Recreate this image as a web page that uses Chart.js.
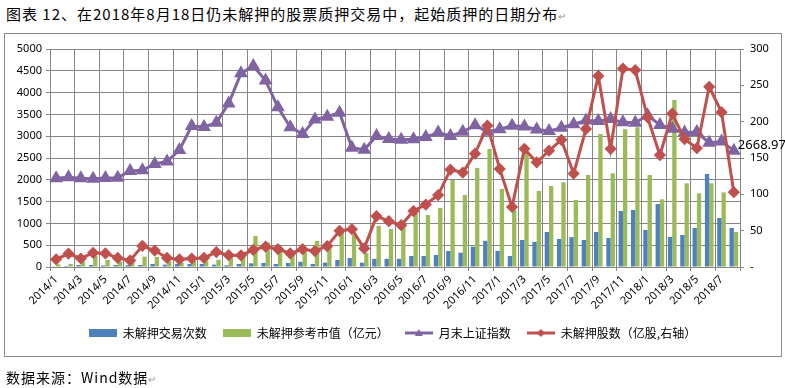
<!DOCTYPE html>
<html>
<head>
<meta charset="utf-8">
<script src="https://cdn.jsdelivr.net/npm/chart.js@4.4.1/dist/chart.umd.min.js"></script>
<style>
  html, body { margin: 0; padding: 0; background: #fff; }
  body { width: 785px; height: 388px; position: relative; overflow: hidden; font-family: "Noto Sans CJK SC", sans-serif; }
  #title { position: absolute; left: 6px; top: 3px; font-size: 15px; letter-spacing: 1px; color: #000; white-space: nowrap; }
  #box { position: absolute; left: 4px; top: 33px; width: 776px; height: 322px; border: 1px solid #8c8c8c; }
  #src { position: absolute; left: 6px; top: 367px; font-size: 14px; letter-spacing: 1px; color: #000; white-space: nowrap; }
  .mark { color: #999; font-size: 10px; }
  #chart { position: absolute; left: 0; top: 0; width: 785px; height: 388px; }
</style>
</head>
<body>
<div id="title">图表 12、在2018年8月18日仍未解押的股票质押交易中，起始质押的日期分布<span class="mark">↵</span></div>
<div id="box"></div>
<canvas id="chart" width="785" height="388"></canvas>
<div id="src">数据来源：Wind数据<span class="mark">↵</span></div>
<script>
const months = [
  "2014/1","2014/2","2014/3","2014/4","2014/5","2014/6","2014/7","2014/8","2014/9","2014/10","2014/11","2014/12",
  "2015/1","2015/2","2015/3","2015/4","2015/5","2015/6","2015/7","2015/8","2015/9","2015/10","2015/11","2015/12",
  "2016/1","2016/2","2016/3","2016/4","2016/5","2016/6","2016/7","2016/8","2016/9","2016/10","2016/11","2016/12",
  "2017/1","2017/2","2017/3","2017/4","2017/5","2017/6","2017/7","2017/8","2017/9","2017/10","2017/11","2017/12",
  "2018/1","2018/2","2018/3","2018/4","2018/5","2018/6","2018/7","2018/8"
];

// 未解押交易次数 (左轴)
const pledgeCount = [
  15, 23, 46, 46, 38, 46, 46, 46, 69, 54, 69, 69,
  69, 54, 40, 69, 84, 92, 69, 92, 118, 69, 99, 160,
  205, 99, 187, 187, 187, 252, 252, 275, 367, 329, 466, 600,
  370, 252, 619, 577, 803, 642, 685, 619, 803, 665, 1284, 1307,
  849, 1445, 688, 734, 894, 2133, 1124, 894
];

// 未解押参考市值（亿元）(左轴)
const pledgeValue = [
  60, 70, 130, 260, 160, 130, 107, 237, 230, 130, 92, 145,
  130, 168, 237, 237, 711, 566, 380, 275, 380, 600, 470, 840,
  734, 320, 940, 871, 950, 1280, 1192, 1355, 1995, 1651, 2270, 2706,
  1789, 1307, 2645, 1743, 1858, 1942, 1537, 2110, 3050, 2148, 3157, 3203,
  2110, 1552, 3830, 1919, 1690, 1919, 1712, 803
];

// 月末上证指数 (左轴)
const shIndex = [
  2033.08, 2056.30, 2033.31, 2026.36, 2039.21, 2048.33, 2201.56, 2217.20, 2363.87, 2420.18, 2682.84, 3234.68,
  3210.36, 3310.30, 3747.90, 4441.66, 4611.74, 4277.22, 3663.73, 3205.99, 3052.78, 3382.56, 3445.40, 3539.18,
  2737.60, 2687.98, 3003.92, 2938.32, 2916.62, 2929.61, 2979.34, 3085.49, 3004.70, 3100.49, 3250.03, 3103.64,
  3159.17, 3241.73, 3222.51, 3154.66, 3117.18, 3192.43, 3273.03, 3360.81, 3348.94, 3393.34, 3317.19, 3307.17,
  3480.83, 3259.41, 3168.90, 3082.23, 3095.47, 2847.42, 2876.40, 2668.97
];

// 未解押股数（亿股，右轴）
const pledgeShares = [
  10.5, 18.5, 11.7, 19.6, 18.7, 12.5, 9, 29, 22.7, 12.5, 10.5, 11.7,
  12.5, 20.5, 16.2, 16, 23.5, 28, 24.7, 18.7, 24.5, 22, 28.8, 49.8,
  52, 25.6, 70, 63, 57.5, 77, 86, 99, 134, 130, 156, 194.5,
  135, 82.6, 162.6, 144, 160, 175, 128.5, 190, 263, 162.6, 273, 271,
  206, 154, 211, 176, 163.5, 248, 213, 103
];

const leftTicks = [0, 500, 1000, 1500, 2000, 2500, 3000, 3500, 4000, 4500, 5000];
const rightTicks = [0, 50, 100, 150, 200, 250, 300];

const BLUE = "#4F81BD", GREEN = "#9BBB59", PURPLE = "#8064A2", RED = "#C0504D";
const GRID = "#868686";
const numFont = { family: '"Noto Sans", "Liberation Sans", sans-serif', size: 11 };

// legend swatches
function rectSwatch(color) {
  const c = document.createElement("canvas");
  c.width = 28; c.height = 8;
  const g = c.getContext("2d");
  g.fillStyle = color;
  g.fillRect(0, 0, 28, 8);
  return c;
}
function lineSwatch(color, marker) {
  const c = document.createElement("canvas");
  c.width = 28; c.height = 10;
  const g = c.getContext("2d");
  g.strokeStyle = color; g.lineWidth = 3;
  g.beginPath(); g.moveTo(0, 5); g.lineTo(28, 5); g.stroke();
  g.fillStyle = color;
  g.beginPath();
  if (marker === "tri") {
    g.moveTo(14, 1); g.lineTo(18, 8); g.lineTo(10, 8);
  } else {
    g.moveTo(14, 1); g.lineTo(18, 5); g.lineTo(14, 9); g.lineTo(10, 5);
  }
  g.closePath(); g.fill();
  return c;
}
const legendItems = [
  { text: "未解押交易次数", img: rectSwatch(BLUE), color: BLUE, ds: 0 },
  { text: "未解押参考市值（亿元）", img: rectSwatch(GREEN), color: GREEN, ds: 1 },
  { text: "月末上证指数", img: lineSwatch(PURPLE, "tri"), color: PURPLE, ds: 2 },
  { text: "未解押股数（亿股,右轴）", img: lineSwatch(RED, "dia"), color: RED, ds: 3 }
];

const lastLabel = {
  id: "lastLabel",
  afterDatasetsDraw(chart) {
    const meta = chart.getDatasetMeta(2);
    const pt = meta.data[meta.data.length - 1];
    const ctx = chart.ctx;
    ctx.save();
    ctx.font = '13px "Noto Sans", "Liberation Sans", sans-serif';
    ctx.fillStyle = "#000";
    ctx.textBaseline = "middle";
    ctx.fillText(shIndex[shIndex.length - 1].toFixed(2), pt.x + 4, pt.y - 5);
    ctx.restore();
  }
};

new Chart(document.getElementById("chart"), {
  type: "bar",
  data: {
    labels: months,
    datasets: [
      { type: "bar", label: "未解押交易次数", data: pledgeCount, backgroundColor: BLUE, yAxisID: "y",
        categoryPercentage: 0.7, barPercentage: 1.0, order: 2 },
      { type: "bar", label: "未解押参考市值（亿元）", data: pledgeValue, backgroundColor: GREEN, yAxisID: "y",
        categoryPercentage: 0.7, barPercentage: 1.0, order: 2 },
      { type: "line", label: "月末上证指数", data: shIndex, yAxisID: "y", borderColor: PURPLE, borderWidth: 3,
        pointStyle: "triangle", pointRadius: 5, pointBackgroundColor: PURPLE, pointBorderColor: PURPLE,
        tension: 0, order: 1 },
      { type: "line", label: "未解押股数（亿股,右轴）", data: pledgeShares, yAxisID: "y1", borderColor: RED, borderWidth: 3,
        pointStyle: "rectRot", pointRadius: 4, pointBackgroundColor: RED, pointBorderColor: RED,
        tension: 0, order: 0 }
    ]
  },
  options: {
    responsive: false,
    animation: false,
    devicePixelRatio: 1,
    layout: { padding: { top: 49, left: 0, right: 0, bottom: 39 } },
    plugins: {
      tooltip: { enabled: false },
      legend: {
        position: "bottom",
        labels: {
          usePointStyle: true,
          pointStyleWidth: 28,
          padding: 16,
          color: "#000",
          font: { family: '"Noto Sans CJK SC", sans-serif', size: 12 },
          generateLabels: () => legendItems.map(it => ({
            text: it.text, pointStyle: it.img, fillStyle: it.color, strokeStyle: it.color,
            lineWidth: 0, hidden: false, datasetIndex: it.ds, fontColor: "#000"
          }))
        }
      }
    },
    scales: {
      x: {
        offset: true,
        grid: {
          offset: true,
          color: c => (c.index === undefined || c.index % 2 === 0) ? GRID : "rgba(0,0,0,0)",
          tickLength: 4
        },
        border: { color: GRID },
        ticks: {
          autoSkip: false, maxRotation: 45, minRotation: 45, padding: 2,
          color: "#000", font: numFont,
          callback: (v, i) => (i % 2 === 0 ? months[i] : "")
        },
        afterFit: s => { s.height = 44; }
      },
      y: {
        position: "left",
        min: 0, max: 5000,
        afterBuildTicks: s => { s.ticks = leftTicks.map(v => ({ value: v })); },
        grid: { color: GRID, tickLength: 4 },
        border: { color: GRID },
        ticks: { color: "#000", font: numFont, padding: 4, callback: v => String(v) },
        afterFit: s => { s.width = 50; }
      },
      y1: {
        position: "right",
        min: 0, max: 300,
        afterBuildTicks: s => { s.ticks = rightTicks.map(v => ({ value: v })); },
        grid: { drawOnChartArea: false, color: GRID, tickLength: 4 },
        border: { color: GRID },
        ticks: { color: "#000", font: numFont, padding: 6, callback: v => (v === 0 ? "-" : String(v)) },
        afterFit: s => { s.width = 45; }
      }
    }
  },
  plugins: [lastLabel]
});
</script>
</body>
</html>
